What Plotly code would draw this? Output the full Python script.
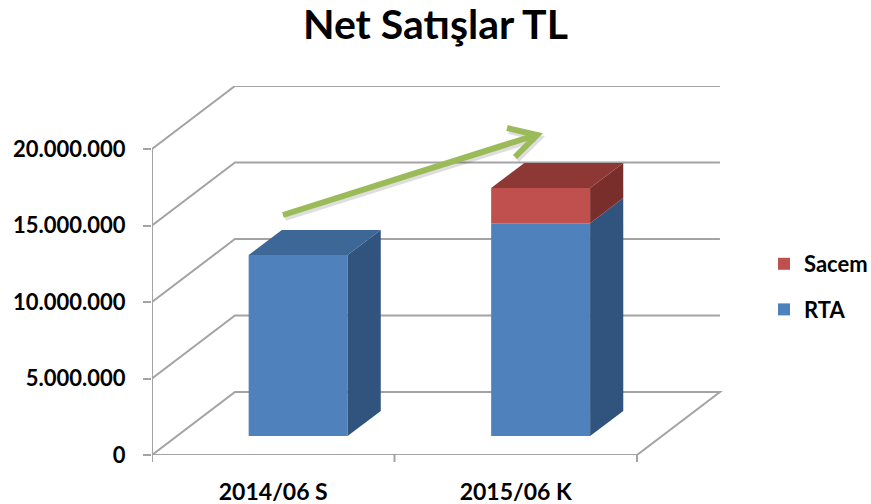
import plotly.graph_objects as go

# ---------------- data ----------------
categories = ["2014/06 S", "2015/06 K"]
rta = [11_830_000, 13_920_000]
sacem = [0, 2_290_000]
y_ticks = [0, 5_000_000, 10_000_000, 15_000_000, 20_000_000]
y_tick_labels = [f"{v:,}".replace(",", ".") for v in y_ticks]

# ---------------- style ----------------
FONT = "Lato"
BLUE, BLUE_TOP, BLUE_SIDE = "#4F81BD", "#3C6797", "#31547F"
RED, RED_TOP, RED_SIDE = "#C0504D", "#8E3835", "#7A2E2C"
GRID = "#A3A3A3"
GREEN = "#9BBB59"

W, H = 871, 504
ML, MR, MT, MB = 152, 10, 86, 49
PW, PH = W - ML - MR, H - MT - MB
CAT_PX = 242.5                     # pixel width of one category on the front floor
DEPTH_X = 0.342                    # floor depth, in category units
DEPTH_Y = 4.12e6                   # floor depth, in value units
BAR_W = 0.408
Z0, Z1 = 0.30, 0.70                # bar front/back depth fraction
n = len(categories)
YMAX = y_ticks[-1]
X_RANGE = PW / CAT_PX

fig = go.Figure()

x_front = [i + 0.5 + Z0 * DEPTH_X for i in range(n)]
base0 = Z0 * DEPTH_Y

fig.add_trace(go.Bar(
    x=x_front, y=sacem, base=[base0 + r for r in rta], width=BAR_W,
    name="<b>Sacem</b>", marker=dict(color=RED, line=dict(width=0)),
    legendgroup="sacem", hoverinfo="skip"))
fig.add_trace(go.Bar(
    x=x_front, y=rta, base=[base0] * n, width=BAR_W, name="<b>RTA</b>",
    marker=dict(color=BLUE, line=dict(width=0)), legendgroup="rta",
    hoverinfo="skip"))

shapes = []

# back wall grid lines + floor
for v in y_ticks:
    if v == 0:
        path = (f"M0,0 L{DEPTH_X},{DEPTH_Y} L{n + DEPTH_X},{DEPTH_Y} "
                f"L{n},0 Z")
    else:
        path = f"M0,{v} L{DEPTH_X},{v + DEPTH_Y} L{n + DEPTH_X},{v + DEPTH_Y}"
    shapes.append(dict(type="path", xref="x", yref="y", path=path,
                       line=dict(color=GRID, width=2), layer="below"))
# front value axis line
shapes.append(dict(type="line", xref="x", yref="y", x0=0, x1=0, y0=0, y1=YMAX,
                   line=dict(color=GRID, width=2), layer="below"))
# category boundary ticks
for i in range(n + 1):
    shapes.append(dict(type="line", xref="x", yref="paper", x0=i, x1=i,
                       y0=0, y1=-7 / PH,
                       line=dict(color=GRID, width=2), layer="below"))

# 3D faces of bars
dx = (Z1 - Z0) * DEPTH_X
dy = (Z1 - Z0) * DEPTH_Y
for i in range(n):
    xl = x_front[i] - BAR_W / 2
    xr = x_front[i] + BAR_W / 2
    segs = [(0, rta[i], BLUE_SIDE, BLUE_TOP),
            (rta[i], rta[i] + sacem[i], RED_SIDE, RED_TOP)]
    segs = [s for s in segs if s[1] > s[0]]
    for lo, hi, side, top in segs:
        b, t = base0 + lo, base0 + hi
        shapes.append(dict(type="path", xref="x", yref="y",
                           path=f"M{xr},{b} L{xr},{t} L{xr + dx},{t + dy} L{xr + dx},{b + dy} Z",
                           fillcolor=side, line=dict(width=0), layer="above"))
    lo, hi, side, top = segs[-1]
    T = base0 + hi
    shapes.append(dict(type="path", xref="x", yref="y",
                       path=f"M{xl},{T} L{xr},{T} L{xr + dx},{T + dy} L{xl + dx},{T + dy} Z",
                       fillcolor=top, line=dict(width=0), layer="above"))

# green trend arrow (decoration, pixel positions -> paper)
def pp(px, py):
    return (px - ML) / PW, (H - MB - py) / PH

tail, tip = pp(283, 215), pp(537, 135)
tip_line = pp(533, 136)
arm1, arm2 = pp(507, 128), pp(515, 157)
for off, col in [((2, 3), "rgba(0,0,0,0.13)"), ((0, 0), GREEN)]:
    ox = off[0] / PW
    oy = -off[1] / PH
    shapes.append(dict(type="line", xref="paper", yref="paper",
                       x0=tail[0] + ox, y0=tail[1] + oy, x1=tip_line[0] + ox, y1=tip_line[1] + oy,
                       line=dict(color=col, width=6), layer="above"))
    shapes.append(dict(type="path", xref="paper", yref="paper",
                       path=(f"M{arm1[0] + ox},{arm1[1] + oy} L{tip[0] + ox},{tip[1] + oy} "
                             f"L{arm2[0] + ox},{arm2[1] + oy}"),
                       line=dict(color=col, width=6), layer="above"))

fig.update_layout(
    width=W, height=H,
    margin=dict(l=ML, r=MR, t=MT, b=MB, autoexpand=False),
    paper_bgcolor="white", plot_bgcolor="white",
    barmode="overlay",
    font=dict(family=FONT, color="black", size=22),
    title=dict(text="<b>Net Satışlar TL</b>", x=0.5, xanchor="center",
               y=1 - 25 / H, yanchor="middle", yref="container",
               font=dict(family=FONT, size=41, color="black")),
    xaxis=dict(range=[0, X_RANGE], tickvals=[i + 0.5 for i in range(n)],
               ticktext=[f"<b>{c}</b>" for c in categories], ticks="",
               showline=False, showgrid=False, zeroline=False,
               ticklabelstandoff=21, tickfont=dict(family=FONT, size=23, color="black"),
               fixedrange=True),
    yaxis=dict(range=[0, YMAX + DEPTH_Y], tickvals=y_ticks,
               ticktext=[f"<b>{t}</b>" for t in y_tick_labels],
               ticks="outside", ticklen=8, tickwidth=2, tickcolor=GRID,
               showline=False, showgrid=False, zeroline=False,
               ticklabelstandoff=13, tickfont=dict(family=FONT, size=22, color="black"),
               fixedrange=True),
    legend=dict(x=(764 - ML) / PW, xanchor="left", y=(H - MB - 287) / PH, yanchor="middle",
                traceorder="grouped", tracegroupgap=14,
                font=dict(family=FONT, size=22, color="black"),
                bgcolor="rgba(0,0,0,0)"),
    shapes=shapes,
    showlegend=True,
)

fig.write_html("out.html", config={"displayModeBar": False},
               post_script="document.body.style.margin='0';document.body.style.overflow='hidden';")
